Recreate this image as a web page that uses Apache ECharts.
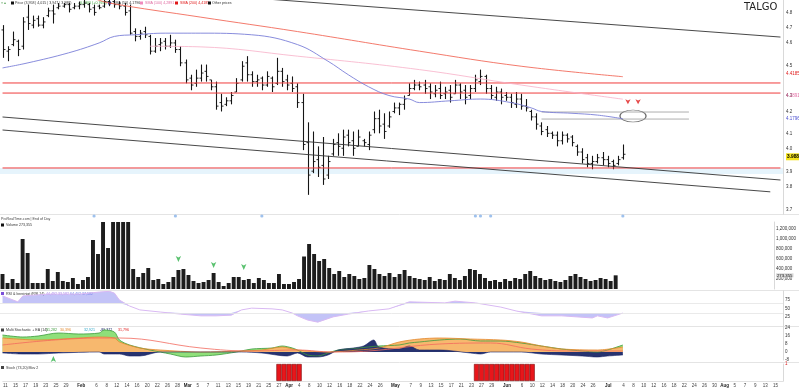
<!DOCTYPE html>
<html><head><meta charset="utf-8">
<script src="https://cdn.jsdelivr.net/npm/echarts@6/dist/echarts.min.js"></script>
<style>html,body{margin:0;padding:0;background:#fff}#c{width:799px;height:388px}</style>
</head><body><div id="c"></div>
<script>
// ---------- categories (trading days 2024) ----------
const monthNames = ['Jan','Feb','Mar','Apr','May','Jun','Jul','Aug'];
const tradingDays = [
 [11,12,15,16,17,18,19,22,23,24,25,26,29,30,31],
 [1,2,5,6,7,8,9,12,13,14,15,16,19,20,21,22,23,26,27,28,29],
 [1,4,5,6,7,8,11,12,13,14,15,18,19,20,21,22,25,26,27,28],
 [2,3,4,5,8,9,10,11,12,15,16,17,18,19,22,23,24,25,26,29,30],
 [2,3,6,7,8,9,10,13,14,15,16,17,20,21,22,23,24,27,28,29,30,31],
 [3,4,5,6,7,10,11,12,13,14,17,18,19,20,21,24,25,26,27,28],
 [1,2,3,4,5,8,9,10,11,12,15,16,17,18,19,22,23,24,25,26,29,30,31],
 [1,2,5,6,7,8,9,12,13,14,15,16]
];
// ---------- price data ----------
const openP = [4.70,4.57,4.61,4.63,4.60,4.78,4.73,4.77,4.73,4.79,4.82,4.84,4.85,4.86,4.84,4.85,4.86,4.86,4.84,4.85,
4.85,4.88,4.88,4.86,4.85,4.82,4.69,4.66,4.69,4.66,4.57,4.61,4.63,4.60,4.62,4.58,4.50,4.41,4.38,4.41,
4.45,4.40,4.36,4.27,4.26,4.28,4.33,4.40,4.50,4.43,4.39,4.41,4.37,4.41,4.38,4.45,4.40,4.38,4.36,4.27,
4.05,3.90,3.96,3.93,3.88,3.99,4.05,4.02,4.09,4.06,4.03,4.06,4.04,4.12,4.18,4.15,4.14,4.22,4.24,4.26,
4.31,4.35,4.37,4.37,4.36,4.32,4.35,4.32,4.34,4.32,4.37,4.34,4.31,4.35,4.39,4.42,4.35,4.30,4.33,4.31,
4.30,4.26,4.29,4.25,4.22,4.19,4.14,4.12,4.10,4.09,4.06,4.09,4.08,4.03,4.00,3.97,3.94,3.95,3.97,3.96,
3.95,3.94,3.97];
const highP = [4.73,4.60,4.69,4.64,4.78,4.86,4.79,4.79,4.78,4.84,4.86,4.87,4.87,4.87,4.87,4.88,4.90,4.87,4.86,4.86,
4.90,4.91,4.90,4.88,4.87,4.86,4.71,4.70,4.72,4.67,4.65,4.65,4.65,4.67,4.64,4.60,4.52,4.43,4.46,4.49,
4.49,4.40,4.39,4.32,4.30,4.33,4.41,4.51,4.54,4.45,4.43,4.42,4.45,4.42,4.53,4.47,4.43,4.42,4.38,4.32,
4.16,4.11,4.03,4.08,3.98,4.07,4.10,4.12,4.12,4.11,4.12,4.07,4.11,4.22,4.23,4.21,4.22,4.27,4.27,4.31,
4.38,4.40,4.39,4.40,4.38,4.37,4.39,4.36,4.37,4.40,4.38,4.37,4.37,4.43,4.46,4.43,4.37,4.36,4.35,4.33,
4.32,4.33,4.32,4.29,4.23,4.21,4.16,4.14,4.11,4.11,4.11,4.10,4.09,4.04,4.02,3.99,3.98,3.99,4.00,3.98,
3.96,3.98,4.04];
const lowP = [4.53,4.51,4.60,4.54,4.58,4.70,4.71,4.72,4.71,4.78,4.74,4.83,4.84,4.81,4.83,4.83,4.84,4.81,4.79,4.83,
4.84,4.85,4.84,4.83,4.79,4.67,4.63,4.64,4.65,4.55,4.56,4.57,4.58,4.59,4.56,4.48,4.38,4.34,4.36,4.39,
4.39,4.34,4.23,4.22,4.25,4.26,4.33,4.39,4.39,4.36,4.36,4.34,4.36,4.33,4.37,4.36,4.34,4.33,4.24,4.01,
3.78,3.89,3.87,3.83,3.86,3.98,3.98,3.98,4.03,3.98,4.03,4.03,4.01,4.10,4.10,4.07,4.13,4.21,4.20,4.23,
4.31,4.34,4.34,4.32,4.29,4.30,4.29,4.29,4.27,4.32,4.29,4.26,4.29,4.33,4.37,4.32,4.29,4.28,4.26,4.28,
4.24,4.24,4.23,4.22,4.17,4.12,4.09,4.08,4.07,4.03,4.04,4.05,4.03,3.98,3.94,3.92,3.91,3.94,3.93,3.92,
3.91,3.93,3.96];
const closeP = [4.58,4.58,4.64,4.58,4.75,4.74,4.76,4.73,4.75,4.82,4.80,4.85,4.86,4.83,4.85,4.86,4.87,4.83,4.81,4.84,
4.88,4.87,4.86,4.85,4.81,4.68,4.66,4.68,4.67,4.57,4.60,4.62,4.60,4.62,4.58,4.50,4.40,4.37,4.41,4.44,
4.42,4.36,4.25,4.25,4.28,4.31,4.38,4.48,4.43,4.39,4.40,4.37,4.42,4.36,4.45,4.39,4.37,4.35,4.27,4.04,
3.88,3.95,3.92,3.86,3.95,4.04,4.03,4.08,4.05,4.02,4.08,4.05,4.09,4.18,4.14,4.11,4.19,4.24,4.26,4.29,
4.35,4.37,4.36,4.35,4.33,4.34,4.31,4.33,4.30,4.37,4.33,4.30,4.35,4.40,4.42,4.35,4.31,4.33,4.30,4.30,
4.27,4.29,4.25,4.24,4.19,4.15,4.11,4.10,4.09,4.06,4.09,4.07,4.05,4.00,3.96,3.94,3.95,3.97,3.96,3.94,
3.93,3.96,3.988];
const volume = [300000,120000,200000,120000,1000000,720000,120000,120000,120000,400000,
160000,340000,160000,140000,220000,100000,180000,240000,980000,700000,
1400000,820000,1400000,1400000,1400000,1400000,400000,240000,320000,420000,
180000,200000,100000,140000,240000,380000,400000,280000,160000,120000,
140000,180000,320000,140000,60000,120000,240000,240000,180000,200000,
120000,220000,180000,120000,120000,300000,100000,100000,140000,200000,
650000,900000,700000,560000,600000,420000,300000,360000,240000,300000,
260000,200000,220000,480000,400000,300000,260000,320000,240000,300000,
380000,260000,220000,200000,180000,240000,160000,200000,180000,300000,
220000,180000,260000,400000,380000,300000,220000,160000,180000,140000,
200000,160000,220000,200000,300000,360000,260000,220000,180000,200000,
160000,140000,180000,260000,300000,240000,200000,160000,180000,220000,
200000,160000,273355];
// moving averages [index, value]
const smaBlue = [[0,4.47],[5,4.50],[13,4.56],[19,4.62],[22,4.66],[26,4.67],[32,4.68],[39,4.68],[49,4.67],[58,4.61],[64,4.51],[68,4.43],[72,4.36],[76,4.31],[80,4.29],[82,4.27],[88,4.28],[94,4.29],[100,4.27],[104,4.24],[106,4.22],[112,4.21],[117,4.20],[122,4.1796]];
const smaPink = [[29,4.60],[39,4.596],[58,4.54],[82,4.46],[102,4.37],[122,4.2891]];
const smaRed = [[18,4.90],[21,4.87],[39,4.78],[58,4.69],[82,4.57],[102,4.48],[122,4.4185]];
// horizontal levels and trend lines
const redLevels = [4.382, 4.324, 3.9165];
const grayLevels = [[106,135,4.217],[106,135,4.178]];
const trendLines = [[[0,4.1894],[153,3.8548]],[[0,4.118],[151,3.795]],[[40,4.925],[153,4.656]]];
const lastPrice = 3.988;
const priceTicks = [4.8,4.7,4.6,4.5,4.3,4.2,4.1,4.0,3.9,3.8,3.7];
// markers
const blueDots = [18,34,51,93,94,96,122];
const volArrows = [[35,540000],[42,420000],[48,380000]];
const stochArrow = [[10,-4]];
const redArrows = [[123,4.26],[125,4.26]];
const ovalMark = [[124.4,4.195]];
// RSI
const rsiVals = [[0,86],[3,69],[4,86],[9,91],[15,91],[19,97],[21,99],[22,94],[23,74],[25,57],[27,46],[31,40],[35,34],[39,29],[42,29],[45,31],[47,46],[49,51],[53,49],[55,46],[57,37],[58,29],[60,17],[62,11],[65,26],[68,34],[72,43],[76,49],[80,69],[87,66],[89,71],[93,66],[98,54],[101,43],[106,29],[110,29],[116,23],[117,29],[119,23],[122,37]];
const rsiUpper = 66, rsiLower = 37;
// Multi stochastic
const stGreen = [[0,17],[4,15],[7,16],[11,19],[15,18],[19,19],[20,22],[22,20],[23,12],[25,7],[29,2],[33,-2],[36,-5],[39,-4],[42,-3],[46,0],[49,3],[53,4],[55,6],[57,4],[58,2],[60,-3],[62,-4],[64,-1],[66,2],[70,4],[74,6],[78,7],[80,9],[82,10],[86,12],[90,13],[94,11],[98,11],[102,9],[106,6],[110,3],[114,1],[117,0],[119,2],[122,7]];
const stOrange = [[0,14],[7,12],[15,14],[19,15],[22,14],[23,10],[27,4],[31,2],[39,0],[47,1],[51,2],[55,5],[58,2],[64,0],[70,2],[74,4],[78,10],[82,13],[86,14],[92,13],[98,12],[102,10],[106,6],[110,3],[117,2],[122,5]];
const stNavy = [[0,-1],[4,-2],[7,-2],[11,-1],[19,0],[20,-2],[23,-2],[25,-4],[27,-4],[31,0],[39,0],[47,0],[51,-1],[56,-4],[58,-1],[60,-5],[62,-5],[64,-3],[66,2],[69,4],[71,6],[73,12],[74,5],[78,3],[80,6],[82,2],[86,2],[92,-1],[94,-2],[96,0],[102,0],[106,-2],[110,-3],[114,-4],[117,-5],[119,-4],[122,-3]];
const stRed = [[0,7],[19,14],[23,14],[39,4],[49,1],[58,2],[65,0],[72,1],[86,8],[96,9],[104,3],[112,1],[122,1]];
// signal blocks
const signalIdx = [54,55,56,57,58,93,94,95,96,97,98,99,100,101,102,103,104];

// ---------- build ----------
const categories = [], dayLabel = [], monthStart = [];
tradingDays.forEach((days, m) => days.forEach((d, k) => {
  categories.push(monthNames[m] + ' ' + d);
  dayLabel.push(k === 0 && m > 0 ? monthNames[m] : String(d));
  monthStart.push(k === 0 && m > 0);
}));
const LAST = categories.length - 1;
const L = Math.log;
const LMAX = L(4.8) + 14 / 757;
const LMIN = LMAX - 214 / 757;
const ohlc = openP.map((o, i) => [i, L(o), L(highP[i]), L(lowP[i]), L(closeP[i])]);
const toL = arr => arr.map(p => [p[0], L(p[1])]);
const FONT = 'Liberation Sans, Arial, sans-serif';
const tiny = {fontSize: 4.5, color: '#333', fontFamily: FONT};
const HIDE = {color: 'rgba(0,0,0,0)', width: 0};

const grids = [
  {left: 0, right: 16, top: 0, height: 214},
  {left: 0, right: 16, top: 222, height: 67},
  {left: 0, right: 16, top: 291, height: 35},
  {left: 0, right: 16, top: 327, height: 33},
  {left: 0, right: 16, top: 364, height: 18},
  {left: 0, right: 16, top: 213, height: 6}
];
const xAxes = grids.map((g, i) => ({
  type: 'category', gridIndex: i, data: categories, boundaryGap: true,
  axisTick: {show: false}, splitLine: {show: false},
  axisLine: {show: i === 4, lineStyle: {color: '#ccc', width: 0.6}},
  axisLabel: {
    show: i === 4, fontSize: 4.5, color: '#444', margin: 2, fontFamily: FONT,
    interval: (idx) => monthStart[idx] || (idx % 2 === 0 && !monthStart[idx - 1] && !monthStart[idx + 1]),
    formatter: (v, idx) => monthStart[idx] ? '{m|' + dayLabel[idx] + '}' : dayLabel[idx],
    rich: {m: {fontWeight: 'bold', fontSize: 4.5, color: '#222'}}
  }
}));
const axLine = {show: true, lineStyle: {color: '#cfcfcf', width: 0.8}};
const yAxes = [
  {type: 'value', gridIndex: 0, min: LMIN, max: LMAX, position: 'right', axisLabel: {show: false}, axisLine: axLine, axisTick: {show: false}, splitLine: {show: false}},
  {type: 'value', gridIndex: 1, min: 0, max: 1340000, interval: 200000, position: 'right', axisLine: axLine, axisTick: {show: false}, splitLine: {show: false},
    axisLabel: Object.assign({}, tiny, {margin: 2, showMinLabel: false, showMaxLabel: false, formatter: v => v.toLocaleString('en-US')})},
  {type: 'value', gridIndex: 2, min: 0, max: 100, interval: 25, position: 'right', axisLine: axLine, axisTick: {show: false}, splitLine: {show: false},
    axisLabel: Object.assign({}, tiny, {margin: 2, showMinLabel: false, showMaxLabel: false})},
  {type: 'value', gridIndex: 3, min: -8, max: 25, interval: 8, position: 'right', axisLine: axLine, axisTick: {show: false}, splitLine: {show: false},
    axisLabel: Object.assign({}, tiny, {margin: 2, showMaxLabel: false})},
  {type: 'value', gridIndex: 4, min: 0, max: 1, interval: 1, position: 'right', axisLine: axLine, axisTick: {show: false}, splitLine: {show: false},
    axisLabel: Object.assign({}, tiny, {margin: 2, color: '#d22', showMinLabel: false})},
  {type: 'value', gridIndex: 5, min: 0, max: 1, show: false}
];

const noSym = {symbol: 'none', silent: true};
const series = [];
// light band under the lower red level
series.push(Object.assign({type: 'line', xAxisIndex: 0, yAxisIndex: 0, data: [[0, L(4.8)]], lineStyle: HIDE,
  markArea: {silent: true, itemStyle: {color: 'rgba(200,230,248,0.45)'},
    data: [[{yAxis: L(redLevels[2])}, {yAxis: L(3.885)}]]}
}, noSym));
// red horizontal levels
redLevels.forEach(v => series.push(Object.assign({type: 'line', xAxisIndex: 0, yAxisIndex: 0, data: [[0, L(v)], [LAST, L(v)]], lineStyle: {color: '#f03c3c', width: 1}}, noSym)));
grayLevels.forEach(g => series.push(Object.assign({type: 'line', xAxisIndex: 0, yAxisIndex: 0, data: [[g[0], L(g[2])], [g[1], L(g[2])]], lineStyle: {color: '#9a9a9a', width: 0.8}}, noSym)));
trendLines.forEach(t => series.push(Object.assign({type: 'line', xAxisIndex: 0, yAxisIndex: 0, data: toL(t), lineStyle: {color: '#333', width: 0.9}}, noSym)));
// SMAs
[[smaPink, '#f7b0c8', 0.8], [smaRed, '#f26b5b', 0.9], [smaBlue, '#7b7fd8', 0.9]].forEach(([arr, col, w]) => {
  series.push(Object.assign({type: 'line', xAxisIndex: 0, yAxisIndex: 0, data: toL(arr), smooth: 0.4, lineStyle: {color: col, width: w}}, noSym));
});
// OHLC bars
series.push({
  type: 'custom', xAxisIndex: 0, yAxisIndex: 0, data: ohlc, clip: true, silent: true,
  encode: {x: 0, y: [1, 2, 3, 4]},
  renderItem: (params, api) => {
    const x = api.value(0);
    const pO = api.coord([x, api.value(1)]), pH = api.coord([x, api.value(2)]);
    const pL = api.coord([x, api.value(3)]), pC = api.coord([x, api.value(4)]);
    const cx = Math.round(pH[0]) + 0.5;
    const st = {stroke: '#151515', lineWidth: 1.1};
    return {type: 'group', children: [
      {type: 'line', shape: {x1: cx, y1: pH[1], x2: cx, y2: pL[1]}, style: st},
      {type: 'line', shape: {x1: cx - 2, y1: pO[1], x2: cx, y2: pO[1]}, style: {stroke: '#151515', lineWidth: 0.9}},
      {type: 'line', shape: {x1: cx, y1: pC[1], x2: cx + 2, y2: pC[1]}, style: {stroke: '#151515', lineWidth: 0.9}}
    ]};
  }
});
// right-side price tags (tick labels, MA values, last price)
const tagData = priceTicks.map(t => ({yAxis: L(t), lineStyle: HIDE, label: Object.assign({}, tiny, {formatter: t.toFixed(1)})}))
  .concat([[smaRed, '#e01818'], [smaPink, '#e36aa2'], [smaBlue, '#4a4fd0']].map(([arr, c]) => {
    const v = arr[arr.length - 1][1];
    return {yAxis: L(v), lineStyle: HIDE, label: {fontSize: 4.5, fontFamily: FONT, color: c, formatter: String(v)}};
  }))
  .concat([{yAxis: L(lastPrice), lineStyle: HIDE, label: {fontSize: 4.8, fontWeight: 'bold', fontFamily: FONT, color: '#000', backgroundColor: '#f4e21c', padding: [1, 1], formatter: lastPrice.toFixed(3)}}]);
series.push(Object.assign({type: 'line', xAxisIndex: 0, yAxisIndex: 0, data: [[0, L(4.8)]], lineStyle: HIDE, z: 10,
  markLine: {symbol: 'none', silent: true, animation: false, label: {position: 'end', distance: 3}, data: tagData}}, noSym));
// annotations on price
series.push({type: 'scatter', xAxisIndex: 0, yAxisIndex: 0, data: toL(redArrows), symbol: 'arrow', symbolRotate: 180, symbolSize: [4, 5], itemStyle: {color: '#e01b1b'}, silent: true});
series.push({type: 'scatter', xAxisIndex: 0, yAxisIndex: 0, data: toL(ovalMark), symbol: 'circle', symbolSize: [26, 12], itemStyle: {color: 'rgba(0,0,0,0)', borderColor: '#444', borderWidth: 0.9}, silent: true});
// blue event dots
series.push({type: 'scatter', xAxisIndex: 5, yAxisIndex: 5, data: blueDots.map(i => [i, 0.5]), symbolSize: 3.2, itemStyle: {color: '#86b2e8'}, silent: true});
// volume
series.push({type: 'bar', xAxisIndex: 1, yAxisIndex: 1, data: volume, barCategoryGap: '22%', itemStyle: {color: '#1d1d1d'}, silent: true, clip: true,
  markLine: {symbol: 'none', silent: true, animation: false, data: [{yAxis: volume[volume.length - 1], lineStyle: HIDE,
    label: {position: 'end', distance: 2, fontSize: 4.3, fontFamily: FONT, color: '#111', backgroundColor: '#d8d8d8', padding: [0, 1], formatter: volume[volume.length - 1].toLocaleString('en-US')}}]}});
series.push({type: 'scatter', xAxisIndex: 1, yAxisIndex: 1, data: volArrows, symbol: 'arrow', symbolRotate: 180, symbolSize: [4, 6], itemStyle: {color: '#2fb24a'}, silent: true});
// RSI with fills
const rsiUBase = rsiVals.map(p => [p[0], Math.min(p[1], rsiUpper)]);
const rsiUFill = rsiVals.map(p => [p[0], Math.max(p[1] - rsiUpper, 0)]);
const rsiLFill = rsiVals.map(p => [p[0], Math.max(rsiLower - p[1], 0)]);
series.push(Object.assign({type: 'line', xAxisIndex: 2, yAxisIndex: 2, data: rsiUBase, stack: 'u', lineStyle: HIDE}, noSym));
series.push(Object.assign({type: 'line', xAxisIndex: 2, yAxisIndex: 2, data: rsiUFill, stack: 'u', lineStyle: HIDE, areaStyle: {color: 'rgba(140,140,240,0.75)'}}, noSym));
series.push(Object.assign({type: 'line', xAxisIndex: 2, yAxisIndex: 2, data: rsiVals, stack: 'l', lineStyle: HIDE}, noSym));
series.push(Object.assign({type: 'line', xAxisIndex: 2, yAxisIndex: 2, data: rsiLFill, stack: 'l', lineStyle: HIDE, areaStyle: {color: 'rgba(140,140,240,0.75)'}}, noSym));
series.push(Object.assign({type: 'line', xAxisIndex: 2, yAxisIndex: 2, data: rsiVals, lineStyle: {color: '#d9b9f3', width: 1},
  markLine: {symbol: 'none', silent: true, animation: false, label: {show: false}, lineStyle: {color: '#e4e4e4', width: 0.8, type: 'solid'},
    data: [{yAxis: rsiUpper}, {yAxis: rsiLower}]}}, noSym));
// Multi stochastic
series.push(Object.assign({type: 'line', xAxisIndex: 3, yAxisIndex: 3, data: stGreen, smooth: 0.3, lineStyle: {color: '#3c9b3c', width: 0.8}, areaStyle: {color: '#8fe07a', opacity: 1}}, noSym));
series.push(Object.assign({type: 'line', xAxisIndex: 3, yAxisIndex: 3, data: stOrange, smooth: 0.3, lineStyle: {color: '#e3892f', width: 0.8}, areaStyle: {color: '#f7b86e', opacity: 1}}, noSym));
series.push(Object.assign({type: 'line', xAxisIndex: 3, yAxisIndex: 3, data: stNavy, smooth: 0.3, lineStyle: {color: '#1a2466', width: 0.6}, areaStyle: {color: '#27336f', opacity: 1}}, noSym));
series.push(Object.assign({type: 'line', xAxisIndex: 3, yAxisIndex: 3, data: stRed, smooth: 0.4, lineStyle: {color: '#f26a5e', width: 0.8}}, noSym));
series.push({type: 'scatter', xAxisIndex: 3, yAxisIndex: 3, data: stochArrow, symbol: 'arrow', symbolSize: [4, 6], itemStyle: {color: '#2fb24a'}, silent: true});
// signal blocks
const sig = categories.map((c, i) => signalIdx.includes(i) ? 1 : '-');
series.push({type: 'bar', xAxisIndex: 4, yAxisIndex: 4, data: sig, barCategoryGap: '0%', itemStyle: {color: '#e8161b', borderColor: '#7a0a0a', borderWidth: 0.6}, silent: true});

// ---------- text / decorations ----------
const T = (x, y, text, fill, extra) => ({type: 'text', left: x, top: y, silent: true, style: Object.assign({text, fill: fill || '#333', fontSize: 3.6, fontFamily: FONT}, extra || {})});
const Sq = (x, y, c) => ({type: 'rect', left: x, top: y, shape: {width: 3, height: 3}, style: {fill: c}, silent: true});
const HL = (y) => ({type: 'line', shape: {x1: 0, y1: y, x2: 799, y2: y}, style: {stroke: '#dddddd', lineWidth: 0.8}, silent: true});
const graphic = [
  HL(214.5), HL(290.5), HL(326.5), HL(362.5),
  T(1, 1, '\u2261 \u25b4', '#6a6'), Sq(11, 1.5, '#111'), T(15, 1, 'Price (3,958 | 4,015 | 3,947 | 3,988)', '#333'),
  T(78, 1, '+0,0300 (+0,76%)', '#2a9a2a'),
  Sq(108, 1.5, '#2233bb'), T(113, 1, 'SMA (50) 4,1796', '#333'),
  Sq(140, 1.5, '#f08bbd'), T(145, 1, 'SMA (100) 4,2891', '#e06aa0'),
  Sq(175, 1.5, '#e01818'), T(180, 1, 'SMA (200) 4,4185', '#e01818'),
  Sq(208, 1.5, '#111'), T(212, 1, 'Other prices', '#333'),
  T(744, 2, 'TALGO', '#222', {fontSize: 10, fontFamily: 'DejaVu Sans, sans-serif'}),
  T(1, 217, 'ProRealTime.com | End of Day', '#444'),
  Sq(1, 223.5, '#111'), T(6, 223, 'Volume 273,355', '#333'),
  Sq(1, 292, '#7b4fd8'), T(6, 291.5, 'RSI & bereinigt (RSI 14)', '#333'), T(46, 291.5, '44,492 33,582', '#a07ee8'), T(70, 291.5, '64,402 37,582', '#5a6ee0'),
  Sq(1, 328.5, '#444'), T(6, 328, 'Multi Stochastic + EA (14)', '#333'), T(46, 328, '31,282', '#3c9b3c'), T(60, 328, '30,396', '#e3892f'), T(84, 328, '32,921', '#2aa6c8'), T(100, 328, '-89,372', '#1a2466'), T(118, 328, '31,796', '#e01818'),
  Sq(1, 366, '#444'), T(6, 365.5, 'Stoch (73,20) Mov 2', '#333')
];

const chart = echarts.init(document.getElementById('c'), null, {renderer: 'canvas', width: 799, height: 388});
chart.setOption({
  animation: false, backgroundColor: '#ffffff',
  textStyle: {fontFamily: FONT},
  grid: grids, xAxis: xAxes, yAxis: yAxes, series, graphic
});
</script></body></html>
